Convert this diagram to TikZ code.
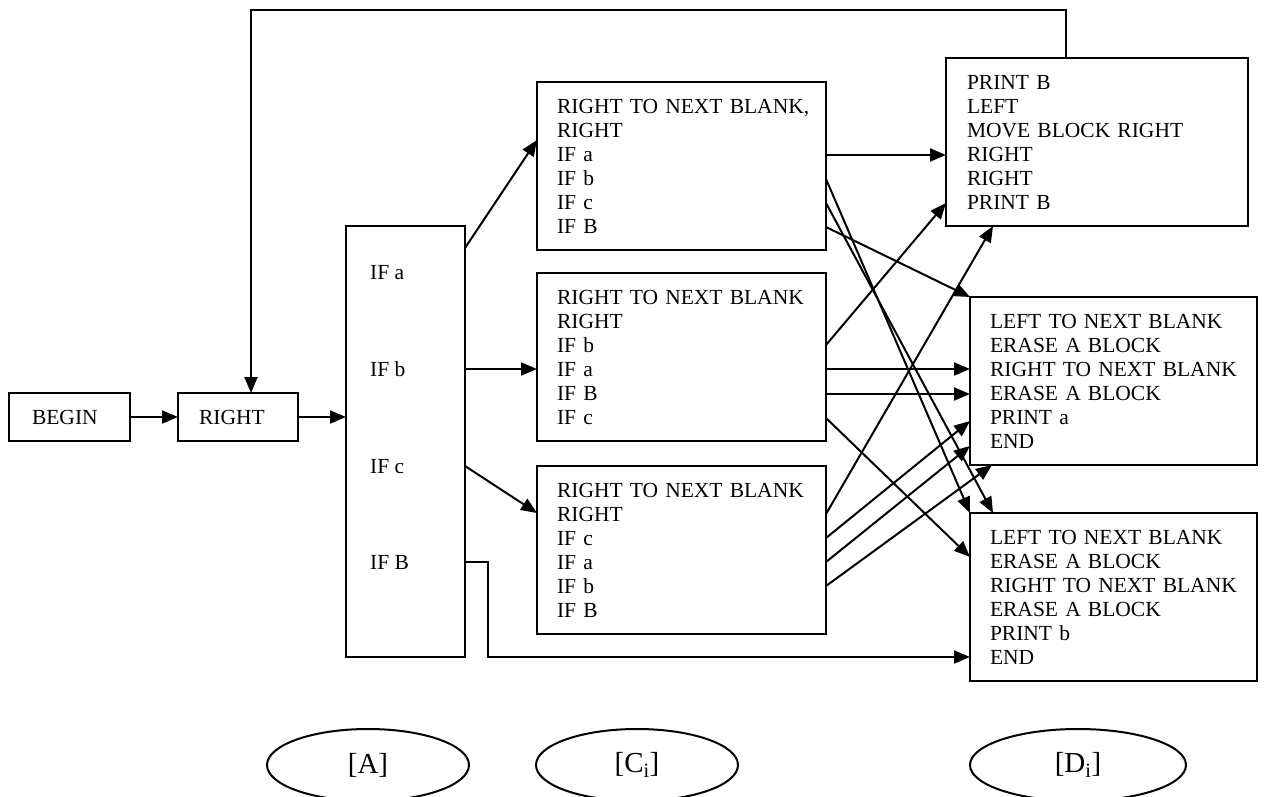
\documentclass[tikz,border=0pt]{standalone}
\usepackage{fontspec}
\setmainfont{Liberation Serif}
\usetikzlibrary{arrows.meta,shapes.geometric}
\begin{document}
\begin{tikzpicture}[x=1pt,y=-1pt,
  lw/.style={line width=2pt},
  box/.style={draw,lw,rectangle,anchor=north west,align=left,inner ysep=0pt,outer sep=0pt,minimum height=168pt,font=\fontsize{21.5}{24}\selectfont},
  txt/.style={anchor=base west,inner sep=0pt,font=\fontsize{21.5}{24}\selectfont},
  conn/.style={lw,-{Triangle[length=16pt,width=13pt]}},
  oval/.style={draw,lw,ellipse,inner sep=0pt,minimum height=72pt,font=\fontsize{29}{32}\selectfont}]
\clip (0,0) rectangle (1264,797);
\fill[white] (0,0) rectangle (1264,797);

% boxes
\node[box,minimum height=48pt,text width=75pt,inner xsep=23pt] (BEGIN) at (9,393) {BEGIN};
\node[box,minimum height=48pt,text width=78pt,inner xsep=21pt] (RIGHT) at (178,393) {RIGHT};
\node[box,minimum width=119pt,minimum height=431pt,inner sep=0pt] (A) at (346,226) {};
\node[txt] (Aa) at (370,279) {IF a};
\node[txt] (Ab) at (370,376) {IF b};
\node[txt] (Ac) at (370,473) {IF c};
\node[txt] (AB) at (370,569) {IF B};

\node[box,text width=249pt,inner xsep=20pt] (C1) at (537,82) {\mbox{RIGHT TO NEXT BLANK,}\\RIGHT\\IF a\\IF b\\IF c\\IF B};
\node[box,text width=249pt,inner xsep=20pt] (C2) at (537,273) {\mbox{RIGHT TO NEXT BLANK}\\RIGHT\\IF b\\IF a\\IF B\\IF c};
\node[box,text width=249pt,inner xsep=20pt] (C3) at (537,466) {\mbox{RIGHT TO NEXT BLANK}\\RIGHT\\IF c\\IF a\\IF b\\IF B};

\node[box,text width=260pt,inner xsep=21pt] (D1) at (946,58) {PRINT B\\LEFT\\MOVE BLOCK RIGHT\\RIGHT\\RIGHT\\PRINT B};
\node[box,text width=247pt,inner xsep=20pt] (D2) at (970,297) {LEFT TO NEXT BLANK\\ERASE A BLOCK\\\mbox{RIGHT TO NEXT BLANK}\\ERASE A BLOCK\\PRINT a\\END};
\node[box,text width=247pt,inner xsep=20pt] (D3) at (970,513) {LEFT TO NEXT BLANK\\ERASE A BLOCK\\\mbox{RIGHT TO NEXT BLANK}\\ERASE A BLOCK\\PRINT b\\END};

% ovals
\node[oval,minimum width=202pt] (EA) at (368,765) {[A]};
\node[oval,minimum width=202pt] (EC) at (637,765) {[C\textsubscript{i}]};
\node[oval,minimum width=216pt] (ED) at (1078,765) {[D\textsubscript{i}]};

% connectors
\draw[conn] (BEGIN) -- (RIGHT);
\draw[conn] (RIGHT.east) -- (RIGHT.east -| A.west);
\draw[conn] (D1.north -| 1066,0) |- (251,10) -- (RIGHT.north -| 251,0);

\draw[conn] (A.east |- 0,248) -- (C1.west |- 0,140);
\draw[conn] (A.east |- 0,369) -- (C2.west |- 0,369);
\draw[conn] (A.east |- 0,466) -- (C3.west |- 0,513);
\draw[conn] (A.east |- 0,562) -| (488,657) -- (D3.west |- 0,657);

\draw[conn] (C1.east |- 0,155) -- (D1.west |- 0,155);
\draw[conn] (C1.east |- 0,179) -- (D3.north west);
\draw[conn] (C1.east |- 0,203) -- (D3.north -| 993,0);
\draw[conn] (C1.east |- 0,227) -- (D2.north west);

\draw[conn] (C2.east |- 0,345) -- (D1.west |- 0,203);
\draw[conn] (C2.east |- 0,369) -- (D2.west |- 0,369);
\draw[conn] (C2.east |- 0,394) -- (D2.west |- 0,394);
\draw[conn] (C2.east |- 0,418) -- (D3.west |- 0,557);

\draw[conn] (C3.east |- 0,514) -- (D1.south -| 993,0);
\draw[conn] (C3.east |- 0,538) -- (D2.west |- 0,421);
\draw[conn] (C3.east |- 0,562) -- (D2.west |- 0,446);
\draw[conn] (C3.east |- 0,586) -- (D2.south -| 992,0);
\end{tikzpicture}
\end{document}
